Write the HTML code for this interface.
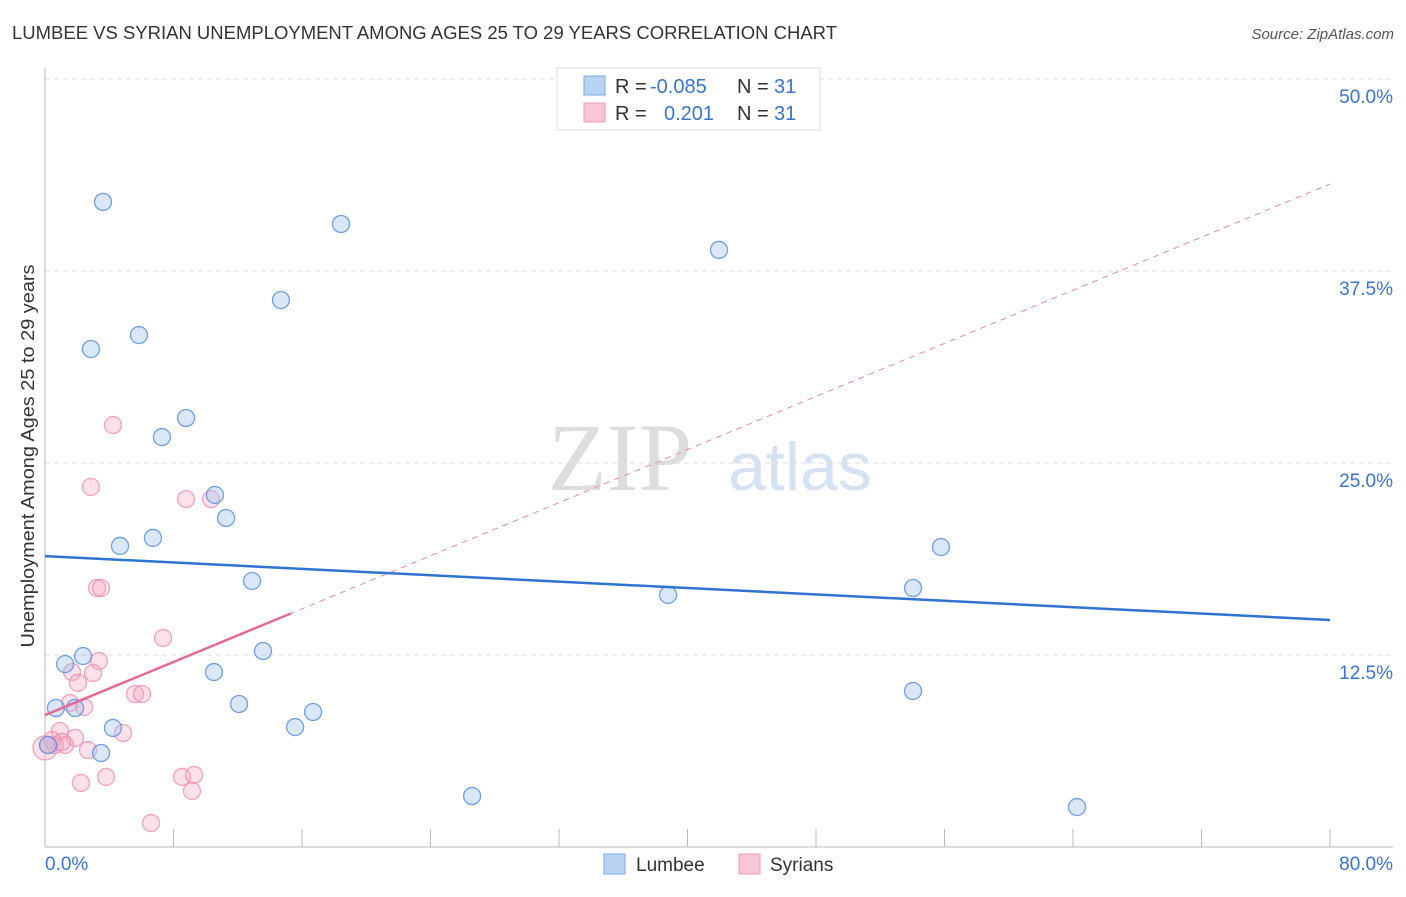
<!DOCTYPE html>
<html><head><meta charset="utf-8"><style>
body{margin:0;background:#fff;font-family:"Liberation Sans",sans-serif}
svg text{font-family:"Liberation Sans",sans-serif}
</style></head><body>
<svg width="1406" height="892" viewBox="0 0 1406 892" id="chart">
<text x="12" y="39" font-size="18" fill="#333" textLength="825" lengthAdjust="spacingAndGlyphs">LUMBEE VS SYRIAN UNEMPLOYMENT AMONG AGES 25 TO 29 YEARS CORRELATION CHART</text>
<text x="1394" y="39" font-size="15" fill="#555" text-anchor="end" font-style="italic">Source: ZipAtlas.com</text>
<text x="620" y="490" font-size="96" fill="#ddd" text-anchor="middle" style="font-family:'Liberation Serif',serif">ZIP</text>
<text x="800" y="490" font-size="68" fill="#d4e2f4" text-anchor="middle">atlas</text>
<text transform="translate(34,456) rotate(-90)" font-size="18" fill="#333" text-anchor="middle" textLength="383" lengthAdjust="spacingAndGlyphs">Unemployment Among Ages 25 to 29 years</text>
<g id="grid"></g><g id="axes"></g><g id="marks"></g><g id="trends"></g>
<g>
<rect x="557" y="68" width="263" height="62" fill="#fff" stroke="#ddd"/>
<rect x="584" y="76" width="21" height="19" fill="#b9d3f3" stroke="#7aa8e4"/>
<rect x="584" y="103" width="21" height="19" fill="#f9c6d5" stroke="#ec9ab4"/>
<text y="93" font-size="20" fill="#333"><tspan x="615">R =</tspan><tspan x="650" fill="#3a74d0">-0.085</tspan><tspan x="737">N =</tspan><tspan x="774" fill="#3a74d0">31</tspan></text>
<text y="120" font-size="20" fill="#333"><tspan x="615">R =</tspan><tspan x="664" fill="#3a74d0">0.201</tspan><tspan x="737">N =</tspan><tspan x="774" fill="#3a74d0">31</tspan></text>
</g>
<g>
<rect x="604" y="854" width="21" height="20" fill="#b9d3f3" stroke="#7aa8e4"/>
<text x="636" y="871" font-size="19" fill="#333">Lumbee</text>
<rect x="739" y="854" width="21" height="20" fill="#f9c6d5" stroke="#ec9ab4"/>
<text x="770" y="871" font-size="19" fill="#333">Syrians</text>
</g>
</svg>
<script>
const yTicks=[12.5,25,37.5,50];
const yTickLabels=["12.5%","25.0%","37.5%","50.0%"];
const xTickLabels=["0.0%","80.0%"];
const lumbeeX=[3.61,18.43,41.96,14.69,2.86,5.85,8.78,7.28,10.58,11.27,6.72,4.67,55.78,12.89,54.04,38.79,13.57,2.37,1.25,10.52,54.04,12.08,0.68,1.87,16.69,4.23,15.57,3.49,26.59,64.25,0.19];
const lumbeeY=[42.0,40.56,38.87,35.61,32.42,33.33,27.93,26.69,22.92,21.42,20.12,19.6,19.53,17.32,16.86,16.41,12.76,12.43,11.91,11.39,10.16,9.31,9.05,9.05,8.79,7.75,7.81,6.12,3.32,2.6,6.64];
const syrX=[4.23,2.86,8.78,10.34,3.24,3.49,7.35,3.36,1.68,2.99,2.05,1.56,2.43,5.6,6.04,0.93,4.86,1.87,0.19,0.62,1.25,2.68,0.44,8.53,9.28,3.8,2.24,9.15,6.6,0,1.06];
const syrY=[27.47,23.44,22.65,22.65,16.86,16.86,13.61,12.11,11.39,11.33,10.68,9.37,9.11,9.96,9.96,7.55,7.42,7.1,6.64,6.64,6.64,6.31,6.97,4.56,4.69,4.56,4.17,3.65,1.56,6.45,6.84];
const lumbeeTrend=[18.94,14.78];
const syrTrend=[8.59,43.16];
const syrSolidEnd=15.3;
const NS="http://www.w3.org/2000/svg";
const X=v=>45+v/80*1285, Y=v=>847-v/12.5*192;
function mk(t,a,p){const e=document.createElementNS(NS,t);for(const k in a)e.setAttribute(k,a[k]);p.appendChild(e);return e;}
const grid=document.getElementById('grid'),axes=document.getElementById('axes'),marks=document.getElementById('marks'),tr=document.getElementById('trends');
yTicks.forEach((t,i)=>{
 const l=mk('line',{x1:45,x2:1393,y1:Y(t),y2:Y(t),stroke:'#ddd','stroke-dasharray':'5,4'},grid);
 
 
 const tx=mk('text',{x:1393,y:Y(t)+24,'font-size':19,fill:'#3a74d0','text-anchor':'end'},grid);
 tx.textContent=yTickLabels[i];
 
 
});
let a=mk('line',{x1:45,x2:45,y1:68,y2:847,stroke:'#bbb'},axes);

a=mk('line',{x1:45,x2:1393,y1:847,y2:847,stroke:'#bbb'},axes);

for(let i=0;i<=10;i++){const t=mk('line',{x1:X(i*8),x2:X(i*8),y1:829,y2:847,stroke:'#bbb'},axes);
 
 }
[[0,'start'],[80,'end']].forEach((d,i)=>{const t=mk('text',{x:d[0]==0?45:1393,y:870,'font-size':19,fill:'#3a74d0','text-anchor':d[1]},axes);t.textContent=xTickLabels[i];
 
 });
syrX.forEach((x,i)=>{const c=mk('circle',{cx:X(x),cy:Y(syrY[i]),r:(x==0?12:8.5),fill:'rgba(246,170,195,0.35)',stroke:'rgba(236,130,165,0.7)','stroke-width':1.3},marks);
 
 });
lumbeeX.forEach((x,i)=>{const c=mk('circle',{cx:X(x),cy:Y(lumbeeY[i]),r:8.5,fill:'rgba(160,195,238,0.4)',stroke:'rgba(90,145,220,0.85)','stroke-width':1.3},marks);
 
 });
let t=mk('line',{x1:X(0),y1:Y(lumbeeTrend[0]),x2:X(80),y2:Y(lumbeeTrend[1]),stroke:'#2f73d2','stroke-width':2.5},tr);

const sy=x=>syrTrend[0]+(syrTrend[1]-syrTrend[0])*x/80;
t=mk('line',{x1:X(0),y1:Y(sy(0)),x2:X(80),y2:Y(sy(80)),stroke:'#e88aa8','stroke-width':1,'stroke-dasharray':'6,5'},tr);

t=mk('line',{x1:X(0),y1:Y(sy(0)),x2:X(syrSolidEnd),y2:Y(sy(syrSolidEnd)),stroke:'#e46a94','stroke-width':2.5},tr);

</script>
</body></html>
